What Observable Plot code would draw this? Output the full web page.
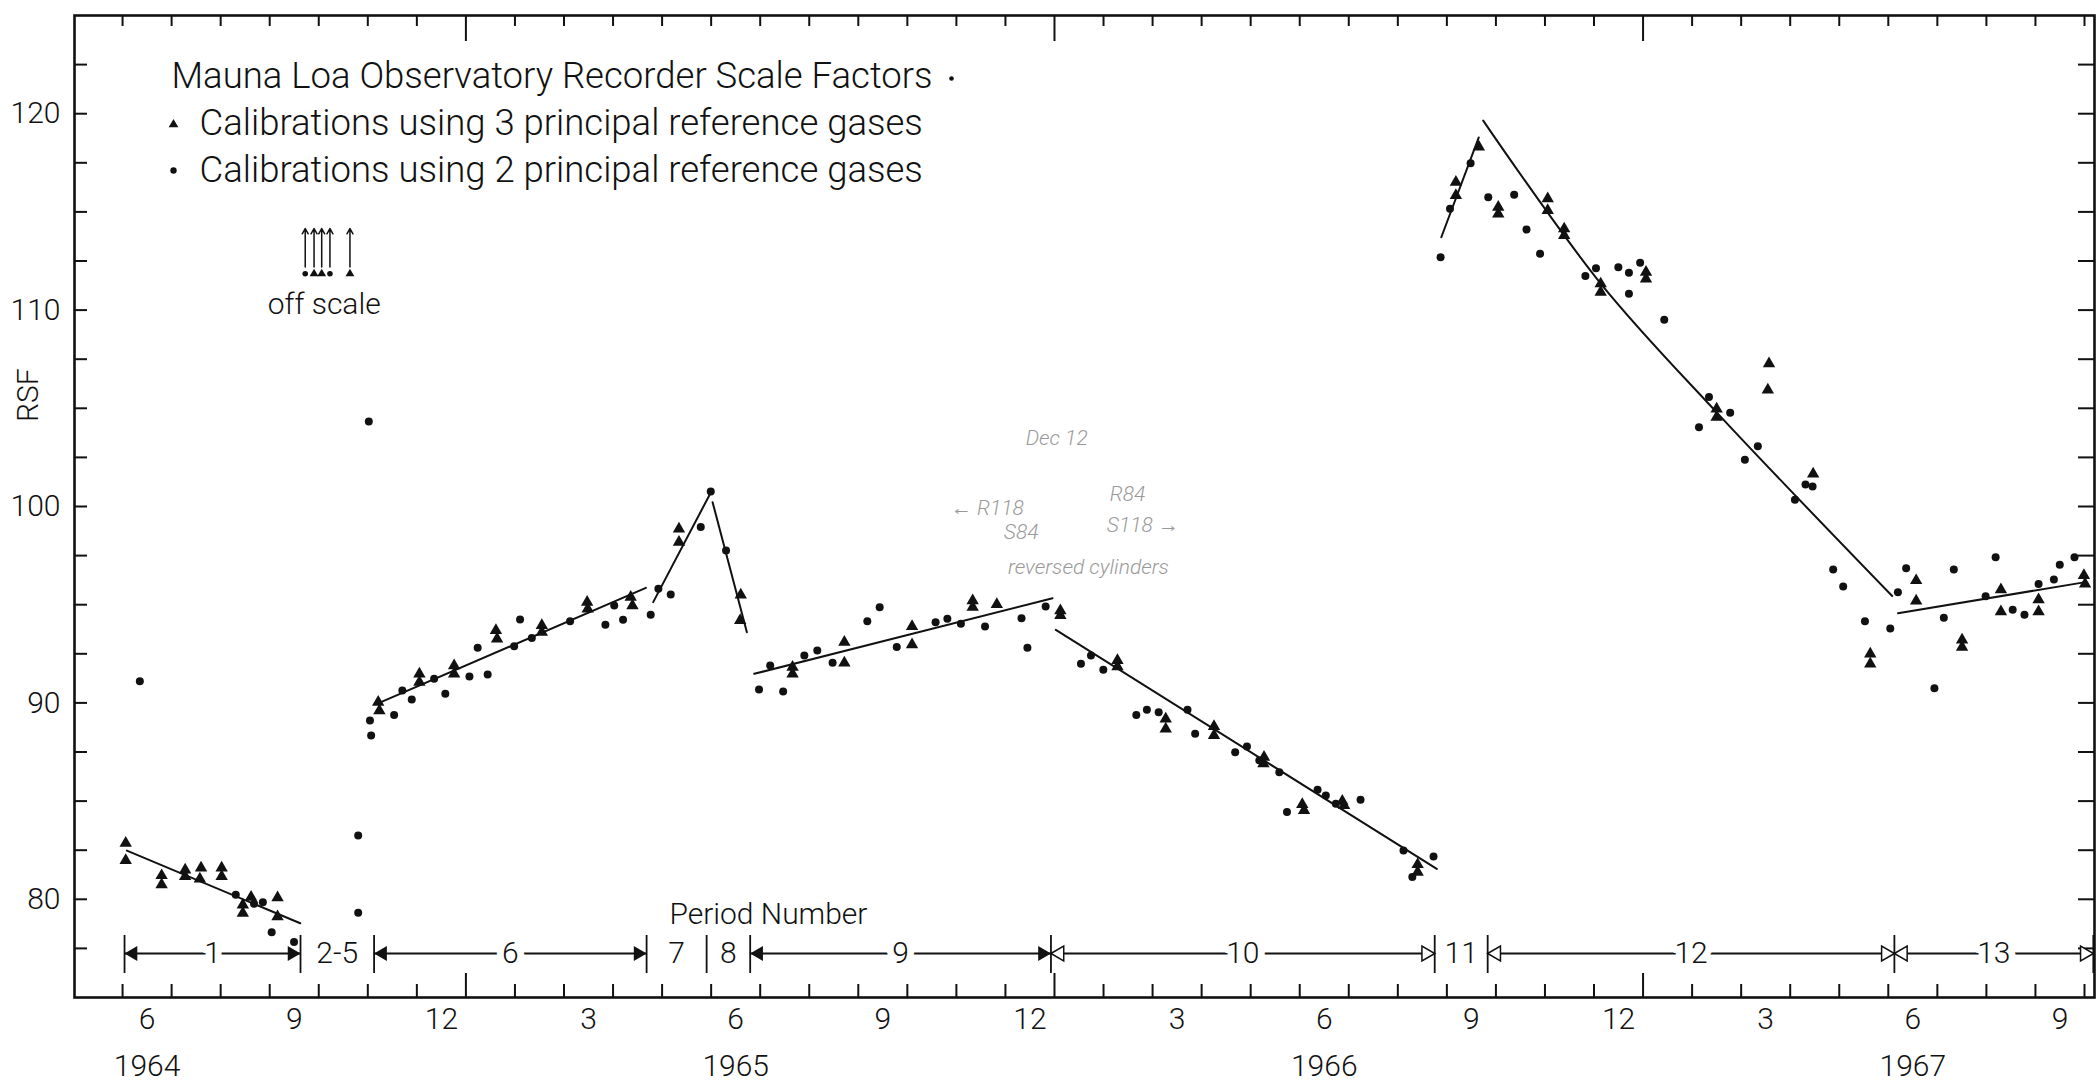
<!DOCTYPE html>
<html>
<head>
<meta charset="utf-8">
<script src="https://cdn.jsdelivr.net/npm/d3@7"></script>
<script src="https://cdn.jsdelivr.net/npm/@observablehq/plot@0.6"></script>
<style>
  html, body { margin: 0; padding: 0; background: #fff; overflow: hidden; }
  #chart { width: 2098px; height: 1085px; }
</style>
</head>
<body>
<div id="chart"></div>
<script>
// ---------------- data (time in decimal years, value = recorder scale factor RSF) ----------------
// Calibrations using 3 principal reference gases (triangles)
const threeGas = [
  [1964.422, 82.86], [1964.422, 81.98], [1964.483, 81.21], [1964.483, 80.75], [1964.523, 81.5], [1964.523, 81.16],
  [1964.550, 81.6], [1964.548, 81.04], [1964.585, 81.6], [1964.585, 81.16], [1964.621, 79.72], [1964.621, 79.29],
  [1964.635, 80.11], [1964.680, 80.08], [1964.680, 79.12],
  [1964.851, 90.04], [1964.853, 89.61], [1964.921, 91.48], [1964.921, 91.05], [1964.980, 91.9], [1964.980, 91.48],
  [1965.051, 93.69], [1965.053, 93.26], [1965.129, 93.94], [1965.129, 93.6], [1965.206, 95.13], [1965.207, 94.79],
  [1965.280, 95.38], [1965.283, 94.95],
  [1965.362, 98.86], [1965.362, 98.18], [1965.467, 95.5], [1965.466, 94.2],
  [1965.555, 91.82], [1965.555, 91.48], [1965.643, 92.04], [1965.643, 93.09], [1965.758, 92.97], [1965.758, 93.89],
  [1965.861, 95.21], [1965.861, 94.87], [1965.902, 95.01],
  [1966.010, 94.7], [1966.010, 94.45], [1966.107, 92.16], [1966.107, 91.85], [1966.189, 89.19], [1966.189, 88.68],
  [1966.271, 88.8], [1966.271, 88.34], [1966.356, 87.24], [1966.355, 86.9], [1966.421, 84.83], [1966.424, 84.52],
  [1966.489, 85.0], [1966.492, 84.78], [1966.617, 81.77], [1966.617, 81.38],
  [1966.682, 116.51], [1966.682, 115.84], [1966.721, 118.31],
  [1966.754, 115.24], [1966.754, 114.9], [1966.838, 115.67], [1966.838, 115.07], [1966.866, 114.14], [1966.866, 113.8],
  [1966.928, 111.34], [1966.928, 110.91], [1967.005, 111.93], [1967.005, 111.59], [1967.125, 104.97], [1967.125, 104.55],
  [1967.214, 107.27], [1967.212, 105.94], [1967.289, 101.66], [1967.386, 92.5], [1967.386, 91.99],
  [1967.464, 96.23], [1967.464, 95.19], [1967.542, 93.21], [1967.542, 92.84], [1967.608, 95.77], [1967.608, 94.65],
  [1967.672, 95.26], [1967.672, 94.65], [1967.749, 96.49], [1967.751, 96.06]
];
// Calibrations using 2 principal reference gases (dots)
const twoGas = [
  [1964.446, 91.1], [1964.609, 80.23], [1964.640, 79.77], [1964.655, 79.85], [1964.670, 78.32], [1964.708, 77.82],
  [1964.817, 83.25], [1964.817, 79.31], [1964.835, 104.33],
  [1964.837, 89.1], [1964.839, 88.34], [1964.878, 89.39], [1964.892, 90.63], [1964.908, 90.17], [1964.946, 91.23],
  [1964.965, 90.46], [1965.006, 91.34], [1965.020, 92.81], [1965.037, 91.45], [1965.082, 92.89], [1965.092, 94.25],
  [1965.112, 93.31], [1965.177, 94.16], [1965.237, 93.98], [1965.252, 94.96], [1965.267, 94.23], [1965.314, 94.49],
  [1965.327, 95.81],
  [1965.348, 95.52], [1965.399, 98.95], [1965.416, 100.76], [1965.442, 97.76],
  [1965.498, 90.68], [1965.539, 90.58], [1965.517, 91.9], [1965.575, 92.41], [1965.597, 92.67], [1965.623, 92.04],
  [1965.682, 94.16], [1965.703, 94.87], [1965.732, 92.84], [1965.798, 94.11], [1965.818, 94.28], [1965.841, 94.03],
  [1965.882, 93.89], [1965.944, 94.31], [1965.954, 92.81], [1965.985, 94.91],
  [1966.045, 91.99], [1966.062, 92.41], [1966.083, 91.69], [1966.139, 89.39], [1966.157, 89.65], [1966.177, 89.53],
  [1966.226, 89.65], [1966.239, 88.43], [1966.307, 87.49], [1966.327, 87.78], [1966.348, 87.07], [1966.382, 86.47],
  [1966.395, 84.44], [1966.447, 85.58], [1966.461, 85.29], [1966.478, 84.86], [1966.520, 85.07], [1966.593, 82.48],
  [1966.608, 81.13], [1966.644, 82.18],
  [1966.656, 112.69], [1966.672, 115.16], [1966.707, 117.48],
  [1966.737, 115.75], [1966.781, 115.87], [1966.802, 114.1], [1966.825, 112.87], [1966.902, 111.73], [1966.920, 112.13],
  [1966.958, 112.18], [1966.976, 111.9], [1966.976, 110.83], [1966.995, 112.41], [1967.036, 109.51], [1967.112, 105.57],
  [1967.148, 104.77], [1967.095, 104.04], [1967.195, 103.07], [1967.173, 102.38], [1967.276, 101.12], [1967.288, 101.02],
  [1967.258, 100.34], [1967.323, 96.79], [1967.340, 95.93], [1967.377, 94.16], [1967.420, 93.79],
  [1967.433, 95.64], [1967.447, 96.86], [1967.495, 90.75], [1967.511, 94.33], [1967.528, 96.79], [1967.582, 95.43],
  [1967.599, 97.42], [1967.628, 94.74], [1967.648, 94.49], [1967.672, 96.06], [1967.698, 96.28], [1967.708, 97.03],
  [1967.733, 97.42]
];
// fitted trend line per period: [period, time, RSF]
const trendVertices = [
  ["1", 1964.424, 82.48], ["1", 1964.7185, 78.78],
  ["6", 1964.8556, 90.04], ["6", 1965.3058, 95.86],
  ["7", 1965.3182, 95.13], ["7", 1965.415, 100.65],
  ["8", 1965.4191, 100.22], ["8", 1965.4774, 93.6],
  ["9", 1965.4898, 91.48], ["9", 1965.9967, 95.33],
  ["10", 1966.0023, 93.72], ["10", 1966.6495, 81.55],
  ["11", 1966.6572, 113.71], ["11", 1966.7209, 118.79],
  ["12", 1966.7284, 119.65], ["12", 1966.9281, 111.35], ["12", 1967.1286, 104.68], ["12", 1967.4233, 95.44],
  ["13", 1967.4332, 94.57], ["13", 1967.7515, 96.15]
];
// off-scale calibrations (period 2-5)
const offScaleT = [1964.727, 1964.742, 1964.755, 1964.769, 1964.803];
const offScaleKind = ["2", "3", "3", "2", "3"];
// period boundaries and labels
const periodBounds = [1964.420, 1964.719, 1964.844, 1965.307, 1965.409, 1965.483, 1965.994, 1966.646, 1966.736, 1967.427, 1967.765];
const periodLabels = ["1", "2-5", "6", "7", "8", "9", "10", "11", "12", "13"];
const periodArrowStyle = ["filled", "none", "filled", "none", "none", "filled", "open", "none", "open", "open"];
// axis labels
const rsfTickLabels = [80, 90, 100, 110, 120];
const yearLabels = ["1964", "1965", "1966", "1967"];
// legend / annotation text
const legendTitle = "Mauna Loa Observatory Recorder Scale Factors";
const legendThree = "Calibrations using 3 principal reference gases";
const legendTwo = "Calibrations using 2 principal reference gases";
const pencilNotes = [
  {text: "Dec 12", t: 1965.951, rsf: 103.46},
  {text: "← R118", t: 1965.824, rsf: 99.90},
  {text: "R84", t: 1966.094, rsf: 100.61},
  {text: "S84", t: 1965.914, rsf: 98.68},
  {text: "S118 →", t: 1966.089, rsf: 99.03},
  {text: "reversed cylinders", t: 1965.921, rsf: 96.89}
];
// annotation anchors (data units)
const offScaleRSF = 111.85;
const periodBarRSF = 77.24;
const periodTitleT = 1965.514;
const rsfTitleRSF = 104.3;

// ---------------- layout ----------------
const W = 2098, H = 1085;
const M = {top: 15, right: 4, bottom: 88, left: 74};
const plotW = W - M.left - M.right;
const plotH = H - M.top - M.bottom;
const FONT = "Roboto, 'Liberation Sans', Arial, sans-serif";

// month ticks (Jun 1964 .. Oct 1967)
const monthTicks = d3.range(5, 46).map(i => ({t: 1964 + i / 12, jan: i % 12 === 0}));
const shortTicks = monthTicks.filter(d => !d.jan).map(d => d.t);
const longTicks = monthTicks.filter(d => d.jan).map(d => d.t);
const monthLabels = d3.range(5, 45)
  .map(i => ({t: 1964 + i / 12 + 1 / 24, m: (i % 12) + 1}))
  .filter(d => d.m % 3 === 0)
  .map(d => ({t: d.t, label: String(d.m)}));
const yearMarks = yearLabels.map(y => ({t: +y + 5 / 12 + 1 / 24, label: y}));
const rsfTicks = d3.range(77.5, 125, 2.5);

const tri = threeGas.map(([t, v]) => ({t, v}));
const dots = twoGas.map(([t, v]) => ({t, v}));
const trend = trendVertices.map(([p, t, v]) => ({p, t, v}));
const offScale = offScaleT.map((t, i) => ({t, kind: offScaleKind[i]}));
const periods = periodLabels.map((label, i) => ({
  label, start: periodBounds[i], end: periodBounds[i + 1],
  mid: (periodBounds[i] + periodBounds[i + 1]) / 2, style: periodArrowStyle[i]
}));
const arrowed = periods.filter(d => d.style !== "none");
const plain = periods.filter(d => d.style === "none");
const filledP = periods.filter(d => d.style === "filled");
const openP = periods.filter(d => d.style === "open");

const ink = "#111";
const lvl = () => periodBarRSF;
const LF = 36.5; // legend font size

const chart = Plot.plot({
  width: W, height: H,
  marginTop: M.top, marginRight: M.right, marginBottom: M.bottom, marginLeft: M.left,
  x: {domain: [1964.335, 1967.767], axis: null},
  y: {domain: [75, 125], axis: null},
  style: {background: "white", fontFamily: FONT, fontSize: "30px", color: ink, fontWeight: 300},
  marks: [
    // ticks (inward)
    Plot.tickX(shortTicks, {x: d => d, insetTop: plotH - 13, stroke: ink, strokeWidth: 2}),
    Plot.tickX(longTicks, {x: d => d, insetTop: plotH - 24, stroke: ink, strokeWidth: 2}),
    Plot.tickX(shortTicks, {x: d => d, insetBottom: plotH - 11, stroke: ink, strokeWidth: 2}),
    Plot.tickX(longTicks, {x: d => d, insetBottom: plotH - 26, stroke: ink, strokeWidth: 2}),
    Plot.tickY(rsfTicks, {y: d => d, insetRight: plotW - 13, stroke: ink, strokeWidth: 2}),
    Plot.tickY(rsfTicks, {y: d => d, insetLeft: plotW - 16, stroke: ink, strokeWidth: 2}),
    Plot.frame({stroke: ink, strokeWidth: 2.6}),
    // axis labels
    Plot.text(monthLabels, {x: "t", text: "label", frameAnchor: "bottom", lineAnchor: "middle", dy: 22, fontSize: 30, fill: ink}),
    Plot.text(yearMarks, {x: "t", text: "label", frameAnchor: "bottom", lineAnchor: "middle", dy: 69, fontSize: 30, fill: ink}),
    Plot.text(rsfTickLabels, {y: d => d, text: d => String(d), frameAnchor: "left", textAnchor: "end", dx: -14, fontSize: 30, fill: ink}),
    Plot.text(["RSF"], {y: () => rsfTitleRSF, text: d => d, frameAnchor: "left", rotate: -90, dx: -46, fontSize: 30, fill: ink}),
    // legend
    Plot.text([legendTitle], {text: d => d, frameAnchor: "top-left", lineAnchor: "middle", dx: 97, dy: 61, textAnchor: "start", fontSize: LF, fill: ink}),
    Plot.dot([0], {frameAnchor: "top-left", dx: 877, dy: 63, r: 2.3, fill: ink}),
    Plot.dot([0], {frameAnchor: "top-left", dx: 99, dy: 109, symbol: "triangle", r: 3.6, fill: ink}),
    Plot.text([legendThree], {text: d => d, frameAnchor: "top-left", lineAnchor: "middle", dx: 125, dy: 108, textAnchor: "start", fontSize: LF, fill: ink}),
    Plot.dot([0], {frameAnchor: "top-left", dx: 99, dy: 155, r: 3.2, fill: ink}),
    Plot.text([legendTwo], {text: d => d, frameAnchor: "top-left", lineAnchor: "middle", dx: 125, dy: 155, textAnchor: "start", fontSize: LF, fill: ink}),
    // off-scale calibrations
    Plot.arrow(offScale, {x1: "t", x2: "t", y1: () => offScaleRSF + 0.35, y2: () => offScaleRSF + 2.3, headLength: 6, strokeWidth: 1.5, stroke: ink}),
    Plot.dot(offScale.filter(d => d.kind === "2"), {x: "t", y: () => offScaleRSF, r: 2.8, fill: ink}),
    Plot.dot(offScale.filter(d => d.kind === "3"), {x: "t", y: () => offScaleRSF, symbol: "triangle", r: 3.3, fill: ink}),
    Plot.text(["off scale"], {x: () => d3.mean(offScaleT), y: () => offScaleRSF, dy: 31, text: d => d, fontSize: 30, fill: ink}),
    // pencil notes
    Plot.text(pencilNotes, {x: "t", y: "rsf", text: "text", textAnchor: "start", fontSize: 21, fontStyle: "italic", fill: "#9a9a9a"}),
    // period number bar
    Plot.text(["Period Number"], {x: () => periodTitleT, y: lvl, dy: -39, text: d => d, fontSize: 30, fill: ink}),
    Plot.ruleY(arrowed, {x1: "start", x2: "end", y: lvl, stroke: ink, strokeWidth: 1.8}),
    Plot.tickX(periodBounds, {x: d => d, insetTop: plotH - 62, insetBottom: 24, stroke: ink, strokeWidth: 1.8}),
    Plot.dot(filledP, {x: "start", y: lvl, symbol: "triangle", rotate: -90, r: 5.5, dx: 8.5, fill: ink}),
    Plot.dot(filledP, {x: "end", y: lvl, symbol: "triangle", rotate: 90, r: 5.5, dx: -8.5, fill: ink}),
    Plot.dot(openP, {x: "start", y: lvl, symbol: "triangle", rotate: -90, r: 5.5, dx: 8.5, fill: "white", stroke: ink, strokeWidth: 1.5}),
    Plot.dot(openP, {x: "end", y: lvl, symbol: "triangle", rotate: 90, r: 5.5, dx: -8.5, fill: "white", stroke: ink, strokeWidth: 1.5}),
    Plot.text(arrowed, {x: "mid", y: lvl, text: "label", fontSize: 30, fill: ink, stroke: "white", strokeWidth: 14}),
    Plot.text(plain, {x: "mid", y: lvl, text: "label", fontSize: 30, fill: ink}),
    // trend lines and calibrations
    Plot.line(trend, {x: "t", y: "v", z: "p", curve: "catmull-rom", stroke: ink, strokeWidth: 2}),
    Plot.dot(dots, {x: "t", y: "v", r: 4, fill: ink}),
    Plot.dot(tri, {x: "t", y: "v", symbol: "triangle", r: 4.6, fill: ink})
  ]
});
document.getElementById("chart").appendChild(chart);
</script>
</body>
</html>
